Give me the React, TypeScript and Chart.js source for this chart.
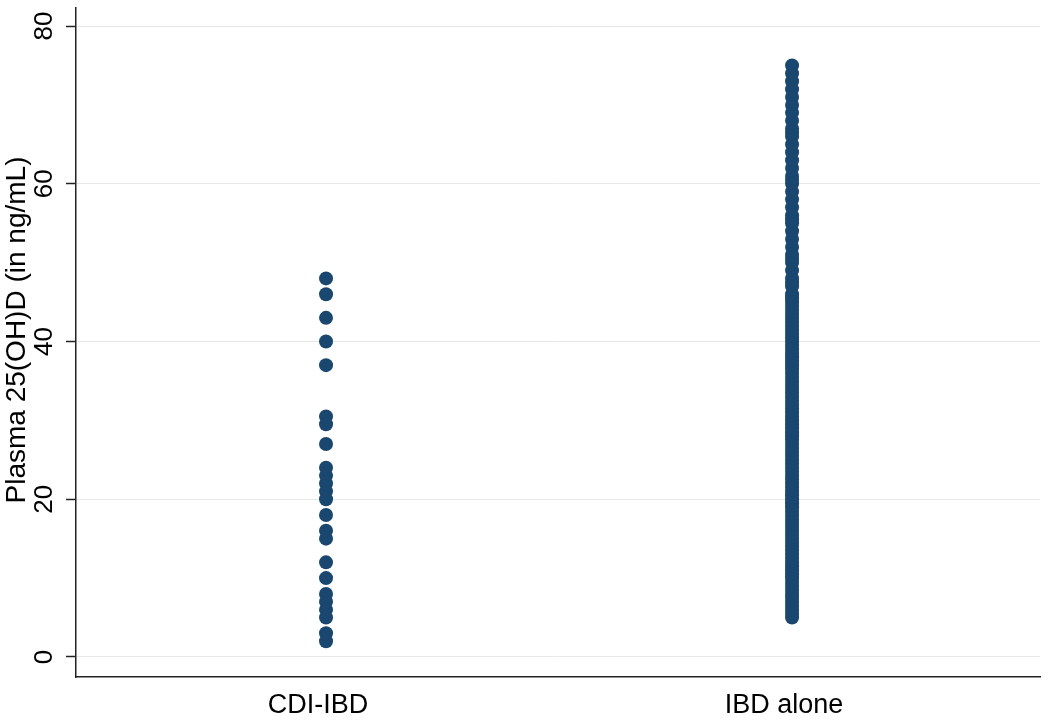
import { useEffect, useRef } from 'react';
import { Chart, registerables } from 'chart.js';

Chart.register(...registerables);

const groupNames = ['CDI-IBD', 'IBD alone'];
const groupPositions = [1, 2];
const cdiIbdValues = [48, 46, 43, 40, 37, 30.5, 29.5, 27, 24, 23, 22, 21, 20, 18, 16, 15, 12, 10, 8, 7, 6, 5, 3, 2];
const ibdAloneValues = [
  75, 74, 73, 72, 71, 70, 69, 68, 67, 66.5, 66, 65, 64, 63, 62, 61, 60.5, 60, 59, 58, 57, 56, 55.5, 55,
  54, 53, 52, 51, 50.5, 50, 49, 48, 47.5, 47, 46, 45.5, 45, 44.5, 44, 43.5, 43, 42.5, 42, 41.5, 41,
  40.5, 40, 39.5, 39, 38.5, 38, 37.5, 37, 36.5, 36, 35.5, 35, 34.5, 34, 33.5, 33, 32.5, 32, 31.5, 31,
  30.5, 30, 29.5, 29, 28.5, 28, 27.5, 27, 26.5, 26, 25.5, 25, 24.5, 24, 23.5, 23, 22.5, 22, 21.5, 21,
  20.5, 20, 19.5, 19, 18.5, 18, 17.5, 17, 16.5, 16, 15.5, 15, 14.5, 14, 13.5, 13, 12.5, 12, 11.5, 11,
  10.5, 10, 9.5, 9, 8.5, 8, 7.5, 7, 6.5, 6, 5.5, 5,
];
const yTicks = [0, 20, 40, 60, 80];
const yTitle = 'Plasma 25(OH)D (in ng/mL)';

const FONT = "'Liberation Sans', Arial, sans-serif";
const MARKER = '#1a476f';
const AXIS = '#222222';

const labelPlugin = {
  id: 'stataLabels',
  afterDraw(chart: any) {
    const { ctx, chartArea, scales } = chart;
    const ys = scales.y;
    const xs = scales.x;
    ctx.save();
    ctx.fillStyle = '#000';
    // y tick labels (rotated)
    ctx.font = `26px ${FONT}`;
    ctx.textAlign = 'center';
    ctx.textBaseline = 'middle';
    yTicks.forEach((v) => {
      const py = ys.getPixelForValue(v);
      ctx.save();
      ctx.translate(45, py);
      ctx.rotate(-Math.PI / 2);
      ctx.fillText(String(v), 0, 0);
      ctx.restore();
    });
    // y title
    ctx.font = `28px ${FONT}`;
    ctx.save();
    ctx.translate(17, 330);
    ctx.rotate(-Math.PI / 2);
    ctx.fillText(yTitle, 0, 0);
    ctx.restore();
    // x category labels
    ctx.font = `27px ${FONT}`;
    groupPositions.forEach((p, i) => {
      const px = xs.getPixelForValue(p);
      ctx.fillText(groupNames[i], px - 8, 706);
    });
    ctx.restore();
  },
};

export default function App() {
  const canvasRef = useRef<HTMLCanvasElement | null>(null);

  useEffect(() => {
    if (!canvasRef.current) return;
    const chart = new Chart(canvasRef.current, {
      type: 'scatter',
      data: {
        datasets: [
          {
            label: groupNames[0],
            data: cdiIbdValues.map((v) => ({ x: groupPositions[0], y: v })),
            backgroundColor: MARKER,
            borderWidth: 0,
            pointRadius: 7,
          },
          {
            label: groupNames[1],
            data: ibdAloneValues.map((v) => ({ x: groupPositions[1], y: v })),
            backgroundColor: MARKER,
            borderWidth: 0,
            pointRadius: 7,
          },
        ],
      },
      options: {
        animation: false,
        responsive: false,
        maintainAspectRatio: false,
        layout: { padding: { left: 66, right: 10, top: 8, bottom: 38 } },
        plugins: {
          legend: { display: false },
          tooltip: { enabled: false },
        },
        scales: {
          x: {
            type: 'linear',
            min: 0.4635,
            max: 2.532,
            ticks: { display: false },
            grid: { display: false },
            border: { display: true, color: AXIS, width: 1.5 },
          },
          y: {
            type: 'linear',
            min: -2.54,
            max: 82.29,
            afterBuildTicks: (scale: any) => {
              scale.ticks = yTicks.map((v) => ({ value: v }));
            },
            ticks: { display: false },
            grid: {
              color: '#e8e8e8',
              lineWidth: 1,
              drawTicks: true,
              tickLength: 10,
              tickColor: AXIS,
              tickWidth: 1.5,
            },
            border: { display: true, color: AXIS, width: 1.5 },
          },
        },
      },
      plugins: [labelPlugin],
    });
    return () => chart.destroy();
  }, []);

  return (
    <div style={{ position: 'fixed', left: 0, top: 0, width: 1050, height: 723, background: '#fff' }}>
      <canvas ref={canvasRef} width={1050} height={723} style={{ display: 'block' }} />
    </div>
  );
}
